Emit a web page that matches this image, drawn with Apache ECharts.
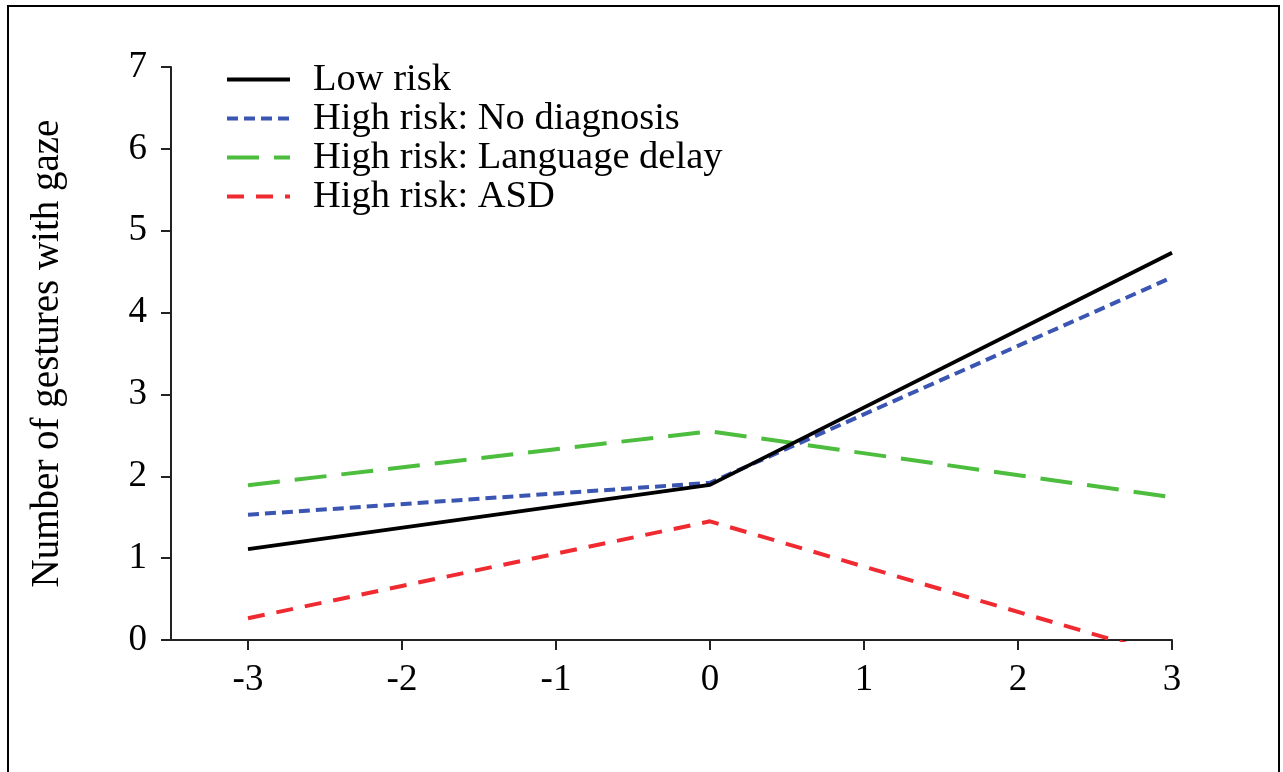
<!DOCTYPE html>
<html>
<head>
<meta charset="utf-8">
<script src="https://cdn.jsdelivr.net/npm/echarts@6/dist/echarts.min.js"></script>
<style>
html,body{margin:0;padding:0;background:#fff;}
#chart{width:1283px;height:772px;}
</style>
</head>
<body>
<div id="chart"></div>
<script>
// Data
var xPoints = [-3, 0, 3];
var xTickLabels = [-3, -2, -1, 0, 1, 2, 3];
var yTicks = [0, 1, 2, 3, 4, 5, 6, 7];
var seriesNames = ['Low risk', 'High risk: No diagnosis', 'High risk: Language delay', 'High risk: ASD'];
var lowRisk = [1.11, 1.895, 4.73];
var noDiagnosis = [1.53, 1.92, 4.43];
var languageDelay = [1.89, 2.55, 1.745];
var asd = [0.265, 1.45, -0.21];

var colors = ['#000000', '#3b55b2', '#4dbd3e', '#ef2a30'];
var dashes = ['solid', [11, 6], [32, 15], [17, 12]];
var widths = [3.8, 4, 4, 4];
var allValues = [lowRisk, noDiagnosis, languageDelay, asd];

var FONT = '"Liberation Serif", "DejaVu Serif", serif';

var series = seriesNames.map(function (name, i) {
  return {
    name: name,
    type: 'line',
    symbol: 'none',
    clip: true,
    data: xPoints.map(function (x, j) { return [x, allValues[i][j]]; }),
    lineStyle: { color: colors[i], width: widths[i], type: dashes[i], cap: 'butt' },
    itemStyle: { color: colors[i] },
    z: 10 - i
  };
});

var chart = echarts.init(document.getElementById('chart'));
chart.setOption({
  animation: false,
  backgroundColor: '#ffffff',
  graphic: [{
    type: 'rect',
    shape: { x: 8, y: 6, width: 1271, height: 820 },
    style: { fill: 'none', stroke: '#000', lineWidth: 2 },
    silent: true
  }],
  grid: { left: 171, right: 111, top: 67, bottom: 132, containLabel: false },
  legend: {
    left: 220,
    top: 55,
    orient: 'vertical',
    itemWidth: 63,
    itemHeight: 14,
    itemGap: 0,
    itemStyle: { opacity: 0, borderWidth: 0 },
    lineStyle: { width: 4 },
    textStyle: { fontFamily: FONT, fontSize: 38.5, color: '#000', lineHeight: 38.5, padding: [0, 0, 0, 18] },
    data: seriesNames
  },
  xAxis: {
    type: 'value',
    min: -3.5,
    max: 3,
    axisLine: { show: true, onZero: false, lineStyle: { color: '#222', width: 2 } },
    axisTick: { show: true, length: 10, customValues: xTickLabels, lineStyle: { color: '#222', width: 2 } },
    axisLabel: { customValues: xTickLabels, fontFamily: FONT, fontSize: 37, color: '#000', margin: 22 },
    splitLine: { show: false }
  },
  yAxis: {
    type: 'value',
    min: 0,
    max: 7,
    interval: 1,
    name: 'Number of gestures with gaze',
    nameLocation: 'middle',
    nameGap: 104,
    nameTextStyle: { fontFamily: FONT, fontSize: 39, color: '#000' },
    axisLine: { show: true, onZero: false, lineStyle: { color: '#222', width: 2 } },
    axisTick: { show: true, length: 10, lineStyle: { color: '#222', width: 2 } },
    axisLabel: { fontFamily: FONT, fontSize: 37, color: '#000', margin: 24,
      formatter: function (v) { return yTicks.indexOf(v) >= 0 ? String(v) : ''; } },
    splitLine: { show: false }
  },
  series: series
});
</script>
</body>
</html>
